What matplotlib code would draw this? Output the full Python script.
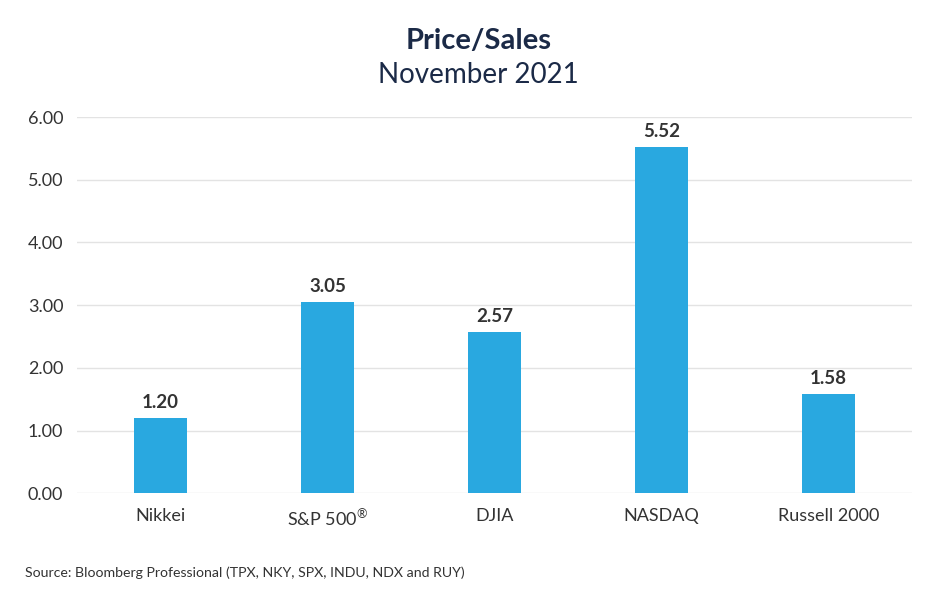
import matplotlib.pyplot as plt

plt.rcParams['font.family'] = ['Lato', 'DejaVu Sans']
plt.rcParams['mathtext.default'] = 'regular'

# Data
indices = ['Nikkei', 'S&P 500$^{®}$', 'DJIA', 'NASDAQ', 'Russell 2000']
price_sales = [1.20, 3.05, 2.57, 5.52, 1.58]
y_ticks = [0, 1, 2, 3, 4, 5, 6]

bar_color = '#29a8e0'
text_color = '#333333'
title_color = '#1b2a47'

fig = plt.figure(figsize=(9.4, 6), dpi=100)
ax = fig.add_axes([0.082, 0.178, 0.888, 0.627])

x = range(len(indices))
bars = ax.bar(x, price_sales, width=0.32, color=bar_color, zorder=3)

# Value labels above bars
for xi, v in zip(x, price_sales):
    ax.annotate(f'{v:.2f}', (xi, v), xytext=(0, 5), textcoords='offset points',
                ha='center', va='bottom', fontsize=13.5, fontweight='bold',
                color=text_color)

ax.set_xlim(-0.5, len(indices) - 0.5)
ax.set_ylim(0, 6)
ax.set_yticks(y_ticks)
ax.set_yticklabels([f'{t:.2f}' for t in y_ticks])
ax.set_xticks(list(x))
ax.set_xticklabels(indices)

ax.grid(axis='y', color='#e3e3e3', linewidth=1, zorder=0)
ax.tick_params(axis='both', length=0, labelsize=13, labelcolor=text_color)
ax.tick_params(axis='x', pad=11)
ax.tick_params(axis='y', pad=10)
for s in ax.spines.values():
    s.set_visible(False)

# Titles
fig.text(0.509, 0.932, 'Price/Sales', ha='center', va='center',
         fontsize=21, fontweight='bold', color=title_color)
fig.text(0.509, 0.875, 'November 2021', ha='center', va='center',
         fontsize=20, color=title_color)

# Source
fig.text(0.027, 0.045, 'Source: Bloomberg Professional (TPX, NKY, SPX, INDU, NDX and RUY)',
         ha='left', va='center', fontsize=10.2, color=text_color)

fig.savefig('out.png', dpi=100)
